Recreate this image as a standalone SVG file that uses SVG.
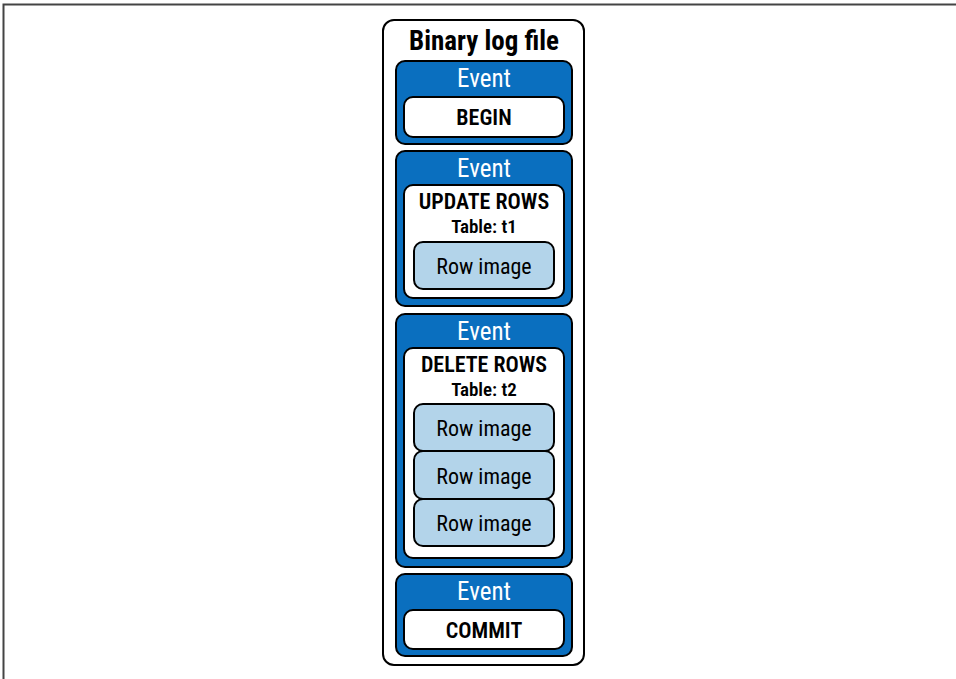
<svg xmlns="http://www.w3.org/2000/svg" width="956" height="679" viewBox="0 0 956 679">
<style>
.frame{stroke:#444;stroke-width:2;fill:none}
.outer{fill:#fff;stroke:#000;stroke-width:2}
.ev{fill:#0a6fbf;stroke:#000;stroke-width:2}
.in{fill:#fff;stroke:#000;stroke-width:2}
.row{fill:#b3d4ea;stroke:#000;stroke-width:2}
text{font-family:"Liberation Sans Narrow","Roboto Condensed","Liberation Sans",sans-serif;text-anchor:middle;dominant-baseline:central}
.title{font-size:27px;font-weight:bold;fill:#000}
.evt{font-size:25px;fill:#fff}
.lbl{font-size:22px;font-weight:600;fill:#000}
.sub{font-size:19px;font-weight:600;fill:#000}
.rt{font-size:22px;fill:#000}
</style>
<rect width="956" height="679" fill="#fff"/>
<path class="frame" d="M3.5 679 V4.5 H956"/>
<g id="binlog">
<rect class="outer" x="383" y="20" width="201" height="645" rx="11"/>
<text class="title" x="484" y="41">Binary log file</text>
</g>
<g id="event1">
<rect class="ev" x="396" y="61" width="176" height="83" rx="9"/>
<text class="evt" x="484" y="78">Event</text>
<rect class="in" x="404" y="97" width="160" height="40" rx="9"/>
<text class="lbl" x="484" y="117">BEGIN</text>
</g>
<g id="event2">
<rect class="ev" x="396" y="151" width="176" height="155" rx="9"/>
<text class="evt" x="484" y="168">Event</text>
<rect class="in" x="404" y="185" width="160" height="113" rx="9"/>
<text class="lbl" x="484" y="201">UPDATE ROWS</text>
<text class="sub" x="484" y="226">Table: t1</text>
<rect class="row" x="414" y="242" width="140" height="47" rx="9"/>
<text class="rt" x="484" y="266">Row image</text>
</g>
<g id="event3">
<rect class="ev" x="396" y="314" width="176" height="253" rx="9"/>
<text class="evt" x="484" y="331">Event</text>
<rect class="in" x="404" y="348" width="160" height="210" rx="9"/>
<text class="lbl" x="484" y="364">DELETE ROWS</text>
<text class="sub" x="484" y="389">Table: t2</text>
<rect class="row" x="414" y="404" width="140" height="47" rx="9"/>
<text class="rt" x="484" y="428">Row image</text>
<rect class="row" x="414" y="451" width="140" height="48" rx="9"/>
<text class="rt" x="484" y="476">Row image</text>
<rect class="row" x="414" y="499" width="140" height="47" rx="9"/>
<text class="rt" x="484" y="523">Row image</text>
</g>
<g id="event4">
<rect class="ev" x="396" y="574" width="176" height="82" rx="9"/>
<text class="evt" x="484" y="591">Event</text>
<rect class="in" x="404" y="610" width="160" height="39" rx="9"/>
<text class="lbl" x="484" y="630">COMMIT</text>
</g>
<g id="connectors"></g>
</svg>
